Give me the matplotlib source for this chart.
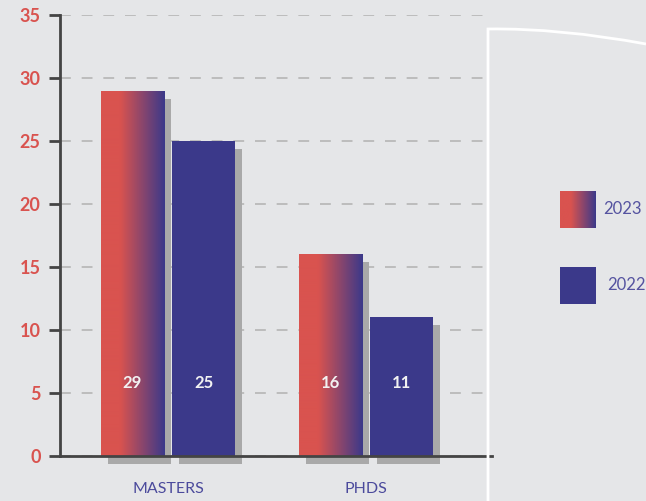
import numpy as np
import matplotlib
matplotlib.use("Agg")
import matplotlib.pyplot as plt
from matplotlib.colors import LinearSegmentedColormap
from matplotlib.path import Path
from matplotlib.patches import PathPatch

categories = ["MASTERS", "PHDS"]
series_names = ["2023", "2022"]
values_2023 = [29, 16]
values_2022 = [25, 11]
y_ticks = [0, 5, 10, 15, 20, 25, 30, 35]

bg = "#e5e6e8"
red = "#d9534f"
blue = "#3b398a"
shadow = "#a9a9a9"
grad = LinearSegmentedColormap.from_list("g", [(0, red), (0.3, red), (1, blue)])
grad_img = np.linspace(0, 1, 256).reshape(1, -1)

fig = plt.figure(figsize=(6.46, 5.01), dpi=100, facecolor=bg)
ax = fig.add_axes([60 / 646, 45 / 501, 432 / 646, 441 / 501])
ax.set_facecolor(bg)

x = np.arange(len(categories))
w = 0.32
off = 0.18
sdx, sdy = 0.035, -0.63

# shadows
for xs, vals in [(x - off, values_2023), (x + off, values_2022)]:
    ax.bar(xs + sdx, vals, w, bottom=sdy, color=shadow, clip_on=False, zorder=2)

bars23 = ax.bar(x - off, values_2023, w, color="none", zorder=3)
bars22 = ax.bar(x + off, values_2022, w, color=blue, zorder=3)
for p in bars23:
    x0, y0 = p.get_x(), p.get_y()
    im = ax.imshow(grad_img, cmap=grad, aspect="auto", zorder=3,
                   extent=[x0, x0 + p.get_width(), y0, y0 + p.get_height()])
    im.set_clip_path(p)

for xs, vals in [(x - off, values_2023), (x + off, values_2022)]:
    for xi, v in zip(xs, vals):
        ax.text(xi, 5.8, str(v), ha="center", va="center", color="#f2f2f2",
                fontsize=12, fontweight="bold", family="Lato", zorder=4)

ax.set_xlim(-0.545, 1.636)
ax.set_ylim(0, 35)
ax.set_yticks(y_ticks)
ax.set_yticklabels([str(t) for t in y_ticks], color=red, fontsize=13,
                   fontweight="bold", family="Lato")
ax.set_xticks(x)
ax.set_xticklabels(categories, color="#4b4a9c", fontsize=11.5, family="Lato")
ax.tick_params(axis="x", length=0, pad=19)
ax.tick_params(axis="y", length=8, width=2, color="#444444", pad=6, direction="out")
ax.yaxis.grid(True, color="#b9b9b9", linestyle=(0, (6, 6)), linewidth=1.3, zorder=1)
ax.set_axisbelow(True)
for s in ["top", "right"]:
    ax.spines[s].set_visible(False)
for s in ["left", "bottom"]:
    ax.spines[s].set_color("#444444")
    ax.spines[s].set_linewidth(2)
    ax.spines[s].set_zorder(5)

# white card outline on the right
pts = [(488 / 646, 0), (488 / 646, 472 / 501), (560 / 646, 473 / 501), (646 / 646, 457 / 501)]
codes = [Path.MOVETO, Path.LINETO, Path.CURVE3, Path.CURVE3]
fig.add_artist(PathPatch(Path(pts, codes), transform=fig.transFigure,
                         facecolor="none", edgecolor="white", linewidth=2))

# legend
for i, name in enumerate(series_names):
    top = [191, 267][i]
    lax = fig.add_axes([560 / 646, (501 - top - 37) / 501, 36 / 646, 37 / 501])
    lax.axis("off")
    if i == 0:
        lax.imshow(grad_img, cmap=grad, aspect="auto")
    else:
        lax.set_facecolor(blue)
        lax.axis("on")
        lax.set_xticks([]); lax.set_yticks([])
        for s in lax.spines.values():
            s.set_visible(False)
    fig.text((603 + 4 * i) / 646, (501 - top - 18) / 501, name, color="#5553a0",
             fontsize=12, family="Lato", va="center")

fig.savefig("out.png", dpi=100, facecolor=bg)
